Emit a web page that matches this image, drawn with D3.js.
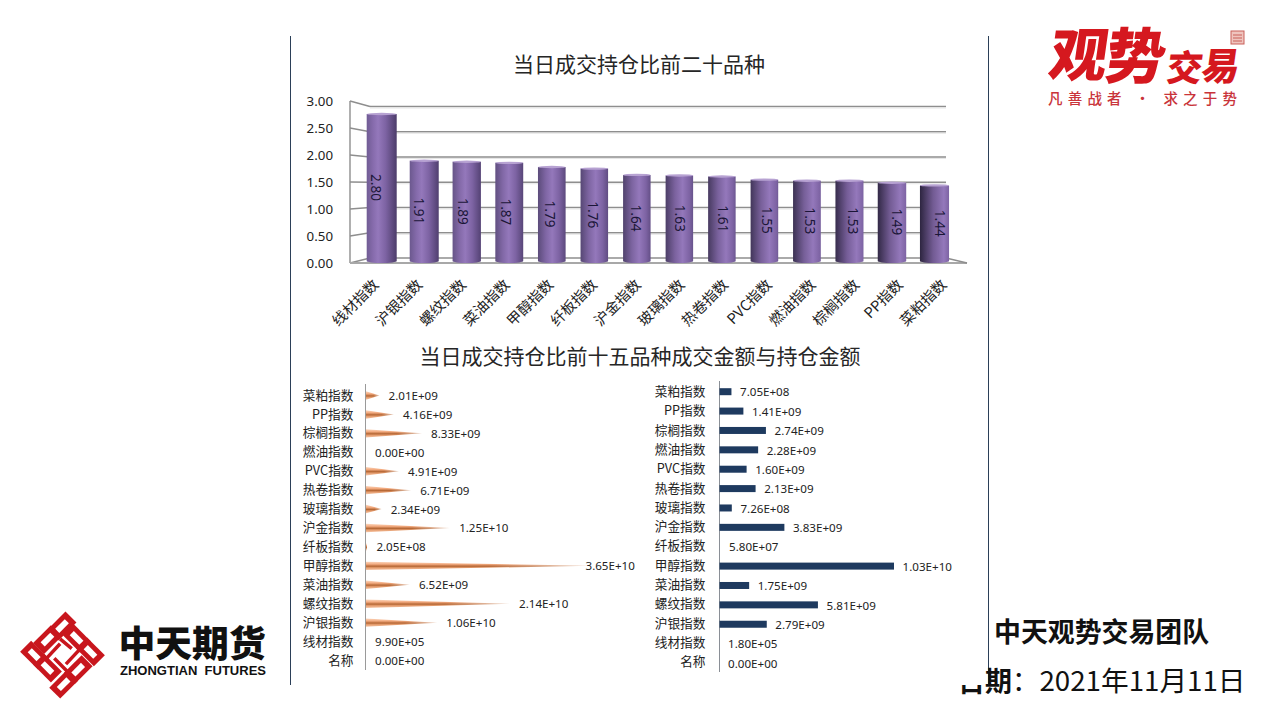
<!DOCTYPE html>
<html lang="zh"><head><meta charset="utf-8">
<style>html,body{margin:0;padding:0;background:#fff;overflow:hidden}svg{display:block}
text{font-family:"Noto Sans","Noto Sans CJK SC",sans-serif}</style>
<script src="https://cdn.jsdelivr.net/npm/d3@7/dist/d3.min.js"></script></head><body>
<svg id="c" width="1280" height="720"></svg>
<script>
const ratioCats=["线材指数","沪银指数","螺纹指数","菜油指数","甲醇指数","纤板指数","沪金指数","玻璃指数","热卷指数","PVC指数","燃油指数","棕榈指数","PP指数","菜粕指数"];
const ratioVals=[2.80,1.91,1.89,1.87,1.79,1.76,1.64,1.63,1.61,1.55,1.53,1.53,1.49,1.44];
const ratioTicks=[0,0.5,1,1.5,2,2.5,3];
const amtCats=["菜粕指数","PP指数","棕榈指数","燃油指数","PVC指数","热卷指数","玻璃指数","沪金指数","纤板指数","甲醇指数","菜油指数","螺纹指数","沪银指数","线材指数","名称"];
const volumeVals=[2.01e9,4.16e9,8.33e9,0,4.91e9,6.71e9,2.34e9,1.25e10,2.05e8,3.65e10,6.52e9,2.14e10,1.06e10,9.90e5,0];
const holdVals=[7.05e8,1.41e9,2.74e9,2.28e9,1.60e9,2.13e9,7.26e8,3.83e9,5.80e7,1.03e10,1.75e9,5.81e9,2.79e9,1.80e5,0];
const titleTop="当日成交持仓比前二十品种";
const titleBottom="当日成交持仓比前十五品种成交金额与持仓金额";

const svg=d3.select("#c"), defs=svg.append("defs");
const cjk='"Noto Sans CJK SC","Noto Sans",sans-serif';
const expFmt=v=>{const s=v.toExponential(2).replace("e","E");return s.replace(/E([+-])(\d)$/,"E$10$2");};

// frame lines
[290.5,988.5].forEach(x=>svg.append("line").attr("x1",x).attr("x2",x).attr("y1",36).attr("y2",685).attr("stroke","#2b3f58").attr("stroke-width",1));

// titles
svg.append("text").attr("x",639).attr("y",72).attr("text-anchor","middle").attr("font-size",21).attr("fill","#262626").style("font-family",cjk).text(titleTop);
svg.append("text").attr("x",640).attr("y",364).attr("text-anchor","middle").attr("font-size",21).attr("fill","#262626").style("font-family",cjk).text(titleBottom);

// ---------- top 3D chart
const yFront=d3.scaleLinear().domain([0,3]).range([263,101]);
const yBack=d3.scaleLinear().domain([0,3]).range([258,106.5]);
const yBar=d3.scaleLinear().domain([0,3]).range([261,103.5]);
const xBar=d3.scalePoint().domain(ratioCats).range([381.7,934.5]);
const xLab=d3.scalePoint().domain(ratioCats).range([376,940]);
const xCat=d3.scalePoint().domain(ratioCats).range([375.5,943.5]);
const wall=svg.append("g").attr("fill","none").attr("stroke","#8e8e8e").attr("stroke-width",1.4);
ratioTicks.forEach(t=>{
  wall.append("line").attr("x1",370).attr("x2",946).attr("y1",yBack(t)).attr("y2",yBack(t));
  wall.append("line").attr("x1",350).attr("x2",370).attr("y1",yFront(t)).attr("y2",yBack(t));
  if(t>0) svg.append("line").attr("x1",370).attr("x2",946).attr("y1",yBack(t)+1.5).attr("y2",yBack(t)+1.5).attr("stroke","#e6e6e6");
});
wall.append("line").attr("x1",350).attr("x2",350).attr("y1",yFront(3)).attr("y2",yFront(0));
wall.append("line").attr("x1",350).attr("x2",967).attr("y1",yFront(0)).attr("y2",yFront(0)).attr("stroke","#a8a8a8").attr("stroke-width",2);
wall.append("line").attr("x1",946).attr("x2",967).attr("y1",yBack(0)).attr("y2",yFront(0));

const n=ratioCats.length;
const hl=d3.scaleLinear().domain([0,n-1]).range([0.38,0.82]);
const leftC=d3.scaleLinear().domain([0,n-1]).range(["#705c94","#2d2540"]);
const rightC=d3.scaleLinear().domain([0,n-1]).range(["#4c3c6a","#7f66a8"]);
const widthS=i=>{const t=Math.abs(i/(n-1)-0.5)*2;return 27.5+(i<n/2?2.5:1.6)*t*t*t;};
ratioCats.forEach((c,i)=>{
  const g=defs.append("linearGradient").attr("id","cyl"+i).attr("x1",0).attr("x2",1).attr("y1",0).attr("y2",0);
  [[0,leftC(i)],[hl(i)*0.55,d3.interpolateRgb(leftC(i),"#8f72b6")(0.7)],[hl(i),"#9478bb"],[Math.min(1,hl(i)+0.25),"#7d63a3"],[1,rightC(i)]]
    .forEach(s=>g.append("stop").attr("offset",s[0]).attr("stop-color",s[1]));
});
const bars=svg.append("g").selectAll("g").data(ratioVals).join("g");
bars.append("path").attr("d",(d,i)=>{
  const w=widthS(i),x=xBar(ratioCats[i])-w/2,t=yBar(d),b=yBar(0);
  return `M${x},${t}L${x},${b}A${w/2},2 0 0 0 ${x+w},${b}L${x+w},${t}Z`;
}).attr("fill",(d,i)=>`url(#cyl${i})`);
bars.append("ellipse").attr("cx",(d,i)=>xBar(ratioCats[i])).attr("cy",d=>yBar(d)).attr("rx",(d,i)=>widthS(i)/2).attr("ry",1.2).attr("fill","#b7a2d2");
bars.append("text").attr("transform",(d,i)=>`translate(${xLab(ratioCats[i])},${(yBar(d)+yBar(0))/2}) rotate(90)`)
  .attr("text-anchor","middle").attr("dy","0.36em").attr("font-size",13.6).attr("fill","#1b1638").text(d=>d.toFixed(2));

const axL=svg.append("g").attr("transform","translate(333,0)")
  .call(d3.axisLeft(yFront).tickValues(ratioTicks).tickFormat(d3.format(".2f")).tickSize(0).tickPadding(0));
axL.select(".domain").remove();
axL.selectAll("text").attr("font-size",13.3).attr("fill","#222").style("font-family",'"Noto Sans",sans-serif');

const axB=svg.append("g").attr("transform","translate(0,282)").call(d3.axisBottom(xCat).tickSize(0).tickPadding(0));
axB.select(".domain").remove();
axB.selectAll("text").attr("transform","rotate(-45)").attr("text-anchor","end").attr("dy","0.35em").attr("font-size",14.6).attr("fill","#222").style("font-family",cjk);

// ---------- bottom charts
function catAxis(g,scale,x){
  const a=g.append("g").attr("transform",`translate(${x},0)`).call(d3.axisLeft(scale).tickSize(0).tickPadding(0));
  a.select(".domain").remove();
  a.selectAll("text").attr("font-size",12.7).attr("fill","#222").style("font-family",cjk);
}
const base=svg.append("g");
// left: cones
const yL=d3.scalePoint().domain(amtCats).range([395,660]);
const yLv=d3.scalePoint().domain(amtCats).range([396,660.5]);
const xL=d3.scaleLinear().domain([0,33.3e9]).range([366,590]).clamp(true);
catAxis(base,yL,353.5);
base.append("line").attr("x1",365.5).attr("x2",365.5).attr("y1",384).attr("y2",670).attr("stroke","#9a9a9a").attr("stroke-width",1);
const cg=defs.append("linearGradient").attr("id","cone").attr("gradientUnits","objectBoundingBox").attr("x1",0).attr("x2",0).attr("y1",0).attr("y2",1);
[[0,"#fbd6bd"],[0.3,"#f3ab80"],[0.55,"#b56735"],[0.72,"#e39a6b"],[1,"#f8c7a7"]].forEach(s=>cg.append("stop").attr("offset",s[0]).attr("stop-color",s[1]));
const mg=defs.append("linearGradient").attr("id","fade").attr("x1",0).attr("x2",1).attr("y1",0).attr("y2",0);
[[0,"#fff"],[0.55,"#fff"],[1,"#555"]].forEach(s=>mg.append("stop").attr("offset",s[0]).attr("stop-color",s[1]));
const mk=defs.append("mask").attr("id","fadeM").attr("maskContentUnits","objectBoundingBox").attr("maskUnits","objectBoundingBox").attr("x",0).attr("y",-0.1).attr("width",1).attr("height",1.2);
mk.append("rect").attr("x",0).attr("y",-0.1).attr("width",1).attr("height",1.2).attr("fill","url(#fade)");
base.append("g").selectAll("polygon").data(volumeVals.map((v,i)=>({v,c:amtCats[i]})).filter(d=>xL(d.v)-xL(0)>0.5)).join("polygon")
  .attr("points",d=>{const y=yL(d.c)+0.5,x0=xL(0),x1=xL(d.v),h=4.2;return `${x0},${y-h} ${x1},${y} ${x0},${y+h}`;})
  .attr("fill","url(#cone)").attr("mask","url(#fadeM)");
base.append("g").selectAll("text").data(volumeVals).join("text")
  .attr("x",d=>Math.min(375+d*6.73e-9,585.5)).attr("y",(d,i)=>yLv(amtCats[i])).attr("dy","0.36em")
  .attr("font-size",11.6).attr("fill","#222").text(d=>expFmt(d));
// right: bars
const yR=d3.scalePoint().domain(amtCats).range([391.5,661.5]);
const yRb=d3.scalePoint().domain(amtCats).range([391.7,663]);
const xR=d3.scaleLinear().domain([0,1.03e10]).range([719.5,894]);
catAxis(base,yR,705.5);
base.append("line").attr("x1",719.5).attr("x2",719.5).attr("y1",381).attr("y2",672).attr("stroke","#8a8f96").attr("stroke-width",1);
base.append("g").selectAll("rect").data(holdVals.map((v,i)=>({v,c:amtCats[i]})).filter(d=>xR(d.v)-xR(0)>=1.5)).join("rect")
  .attr("x",xR(0)).attr("y",d=>yRb(d.c)-3.5).attr("height",7).attr("width",d=>xR(d.v)-xR(0)).attr("fill","#1e3a5f");
base.append("g").selectAll("text").data(holdVals).join("text")
  .attr("x",d=>xR(d)+8.6).attr("y",(d,i)=>yRb(amtCats[i])+0.5).attr("dy","0.36em")
  .attr("font-size",11.6).attr("fill","#222").text(d=>expFmt(d));

// ---------- bottom-right caption
svg.append("text").attr("x",994).attr("y",642).attr("font-size",26.9).attr("font-weight",700).attr("fill","#111").style("font-family",cjk).text("中天观势交易团队");
defs.append("clipPath").attr("id","cut").append("rect").attr("x",950).attr("y",685).attr("width",38).attr("height",20);
svg.append("text").attr("x",958).attr("y",692).attr("font-size",27).attr("font-weight",700).attr("fill","#111").attr("clip-path","url(#cut)").style("font-family",cjk).text("日");
const dt=svg.append("text").attr("x",985).attr("y",691).attr("font-size",27).attr("fill","#111").style("font-family",cjk);
dt.append("tspan").attr("font-weight",700).text("期");
dt.append("tspan").text("：");
svg.append("text").attr("x",1039.5).attr("y",691).attr("font-size",27.7).attr("fill","#111").style("font-family",cjk).text("2021年11月11日");

// ---------- Zhongtian logo
const lg=svg.append("g").attr("transform","translate(63,653.5) scale(0.97)");
const Z=1/3, cx0=143, cy0=145;
const winds=[[140,60,-45],[95,102,-45],[55,150,45],[95,190,45],[145,240,-45],[190,195,-45],[228,140,45],[185,97,45]];
winds.forEach(w=>{
  const g=lg.append("g").attr("transform",`translate(${(w[0]-cx0)*Z},${(w[1]-cy0)*Z}) rotate(${w[2]})`);
  g.append("rect").attr("x",-13).attr("y",-8).attr("width",26).attr("height",16).attr("fill","#c8161d");
  g.append("rect").attr("x",-7).attr("y",-3).attr("width",14).attr("height",6).attr("fill","#fff");
});
lg.append("path").attr("d","M-17,5L-3,-10M-9,5L4,18M17,-4L3,11M9,-5L-3,-15").attr("stroke","#c8161d").attr("stroke-width",3.6).attr("fill","none");
svg.append("text").attr("x",118.5).attr("y",657).attr("font-size",36.8).attr("font-weight",900).attr("fill","#111").style("font-family",cjk).text("中天期货");
svg.append("text").attr("x",120).attr("y",675).attr("font-size",12.5).attr("font-weight",700).attr("fill","#111").attr("textLength",146).attr("lengthAdjust","spacingAndGlyphs").style("font-family",'"Liberation Sans",sans-serif').text("ZHONGTIAN\u00A0\u00A0FUTURES");

// ---------- Guanshi logo
const red="#d5181f";
[["观",1076,76,58],["势",1133,78,60],["交",1183,81,36],["易",1219,80,38]].forEach(a=>{
  svg.append("text").attr("transform",`translate(${a[1]},${a[2]}) skewX(-8)`).attr("text-anchor","middle").attr("font-size",a[3]).attr("font-weight",900).attr("fill",red).style("font-family",cjk).text(a[0]);
});
svg.append("text").attr("x",1048).attr("y",104).attr("font-size",14.5).attr("fill","#c9343a").attr("font-weight",500).attr("textLength",189).style("font-family",cjk).text("凡善战者 · 求之于势");
svg.append("rect").attr("x",1231).attr("y",31).attr("width",13).attr("height",13).attr("fill","#efc4be").attr("stroke","#c9605a").attr("stroke-width",1);
svg.append("path").attr("d","M1233,35H1242M1233,38H1242M1233,41H1242").attr("stroke","#c9605a").attr("stroke-width",1);
</script></body></html>
